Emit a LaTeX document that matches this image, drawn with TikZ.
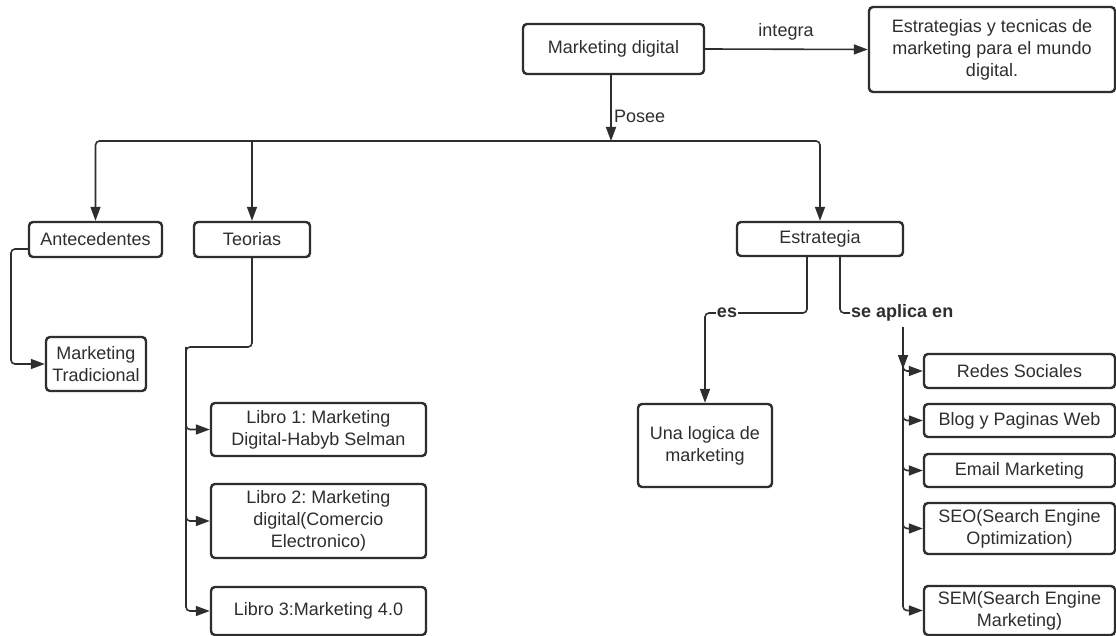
\documentclass[tikz,border=0pt]{standalone}
\usepackage{fontspec}
\setmainfont{Liberation Sans}
\usetikzlibrary{arrows.meta}
\definecolor{ln}{HTML}{2E2E2E}
\frenchspacing
\tikzset{
  box/.style={draw=ln, line width=2.4pt, rounded corners=4pt, fill=white, align=center,
    inner sep=0pt, text=ln, font=\fontsize{18}{22}\selectfont},
  conn/.style={draw=ln, line width=1.6pt, rounded corners=4pt,
    -{Triangle[length=14pt,width=10pt]}},
  plain/.style={draw=ln, line width=1.6pt, rounded corners=4pt},
  lbl/.style={text=ln, inner sep=1pt, font=\fontsize{18}{22}\selectfont},
  blbl/.style={text=ln, inner sep=1pt, fill=white, font=\fontsize{18}{22}\selectfont\bfseries},
}
\begin{document}
\begin{tikzpicture}[x=1pt,y=-1pt]
\useasboundingbox (0,0) rectangle (1116,636);
\fill[white] (0,0) rectangle (1116,636);

% nodes
\node[box, minimum width=181pt, minimum height=50pt] (md) at (613.5,49) {Marketing digital};
\node[box, minimum width=246pt, minimum height=85pt] (est) at (992,49.5) {Estrategias y tecnicas de\\marketing para el mundo\\digital.};
\node[box, minimum width=133pt, minimum height=35pt] (ant) at (95.5,239.5) {Antecedentes};
\node[box, minimum width=116pt, minimum height=35pt] (teo) at (252,239.5) {Teorias};
\node[box, minimum width=166pt, minimum height=34pt] (str) at (820,239) {Estrategia};
\node[box, minimum width=100pt, minimum height=54pt] (mt) at (96,364) {Marketing\\Tradicional};
\node[box, minimum width=215pt, minimum height=53pt] (l1) at (318.5,429.5) {Libro 1: Marketing\\Digital-Habyb Selman};
\node[box, minimum width=215pt, minimum height=74pt] (l2) at (318.5,521) {Libro 2: Marketing\\digital(Comercio\\Electronico)};
\node[box, minimum width=215pt, minimum height=48pt] (l3) at (318.5,611) {Libro 3:Marketing 4.0};
\node[box, minimum width=134pt, minimum height=83pt] (una) at (705,445.5) {Una logica de\\marketing};
\node[box, minimum width=191pt, minimum height=34pt] (rs) at (1019.5,371) {Redes Sociales};
\node[box, minimum width=191pt, minimum height=33pt] (blog) at (1019.5,420.5) {Blog y Paginas Web};
\node[box, minimum width=191pt, minimum height=33pt] (email) at (1019.5,470.5) {Email Marketing};
\node[box, minimum width=191pt, minimum height=51pt] (seo) at (1019.5,528.5) {SEO(Search Engine\\Optimization)};
\node[box, minimum width=191pt, minimum height=49pt] (sem) at (1019.5,610.5) {SEM(Search Engine\\Marketing)};

% top connectors
\draw[conn] (md.east) -- (est.west);
\node[lbl] (integra) at (786,32) {integra};
\coordinate (hub) at (611,141);
\draw[conn] (md.south -| hub) -- (hub);
\node[lbl, anchor=west] (posee) at (613,116) {Posee};
\draw[conn] (hub) -| (ant.north);
\draw[conn] (teo.north |- hub) -- (teo.north);
\draw[conn] (hub) -| (str.north);

% Antecedentes -> Marketing Tradicional
\coordinate (aL) at (11,249);
\draw[conn] (ant.west |- aL) -- (aL) |- (mt.west);

% Teorias -> libros
\coordinate (tb) at (186,347);
\draw[conn] (teo.south) |- (tb) |- (l3.west);
\draw[conn] (tb) |- (l1.west);
\draw[conn] (tb) |- (l2.west);

% Estrategia -> es
\coordinate (esc) at (705,313);
\draw[conn] ([xshift=-13pt]str.south) |- (esc) -- (una.north);
\node[blbl] (es) at (727,313) {es};

% Estrategia -> se aplica en
\node[blbl, anchor=west] (sa) at (850,313) {se aplica en};
\draw[plain] ([xshift=20pt]str.south) |- (sa.west);
\coordinate (sv) at (903,327);
\coordinate (sv2) at (903,369);
\draw[conn] (sv) -- (sv2);
\draw[conn] (sv2) |- (rs.west);
\draw[conn] (sv2) |- (blog.west);
\draw[conn] (sv2) |- (email.west);
\draw[conn] (sv2) |- (seo.west);
\draw[conn] (sv2) |- (sem.west);
\end{tikzpicture}
\end{document}
